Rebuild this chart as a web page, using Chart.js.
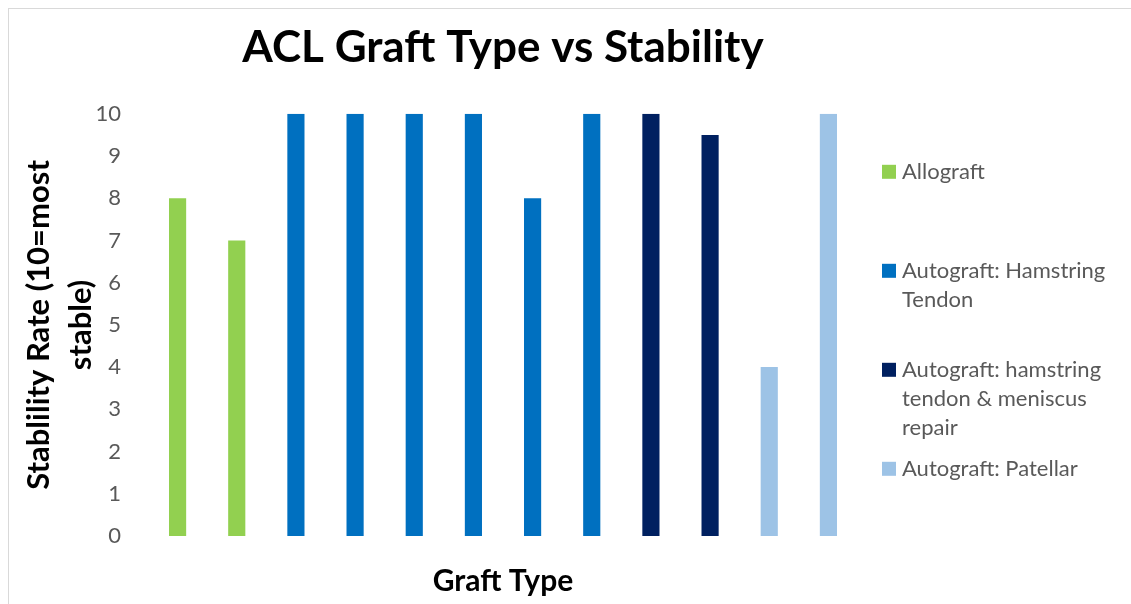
<!DOCTYPE html>
<html>
<head>
<meta charset="utf-8">
<script src="https://cdn.jsdelivr.net/npm/chart.js@4"></script>
<style>
    html, body { margin: 0; padding: 0; background: #fff; overflow: hidden; }
    #frame { position: absolute; left: 8px; top: 8px; width: 1140px; height: 620px; border: 1px solid #d9d9d9; }
    #wrap { position: absolute; left: 0; top: 0; width: 1131px; height: 604px; }
</style>
</head>
<body>
<div id="frame"></div>
<div id="wrap"><canvas id="chart"></canvas></div>
<script>
// legend groups (wrapped the way the reference shows them)
const groups = [
    ['Allograft'],
    ['Autograft: Hamstring', 'Tendon'],
    ['Autograft: hamstring', 'tendon & meniscus', 'repair'],
    ['Autograft: Patellar']
];
const groupColors = ['#92d050', '#0070c0', '#002060', '#9dc3e6'];
const barGroup = [0, 0, 1, 1, 1, 1, 1, 1, 2, 2, 3, 3];
const values = [8, 7, 10, 10, 10, 10, 8, 10, 10, 9.5, 4, 10];
const yMin = 0, yMax = 10, yStep = 1;

const categories = barGroup.map(g => groups[g].join(' '));

const FONT = 'Lato, "Open Sans", sans-serif';

// legend on the right, drawn by hand so the labels can wrap
const sideLegend = {
    id: 'sideLegend',
    afterDraw(chart) {
        const { ctx, chartArea } = chart;
        ctx.save();
        ctx.font = '22px ' + FONT;
        ctx.textBaseline = 'middle';
        groups.forEach((lines, i) => {
            const y = chartArea.top + 58 + i * 99;
            const x = chartArea.right + 24;
            ctx.fillStyle = groupColors[i];
            ctx.fillRect(x, y - 7, 14, 14);
            ctx.fillStyle = '#595959';
            lines.forEach((t, j) => ctx.fillText(t, x + 20, y + j * 29));
        });
        ctx.restore();
    }
};

new Chart(document.getElementById('chart'), {
    type: 'bar',
    data: {
        labels: categories,
        datasets: [{
            label: 'Stability',
            data: values,
            backgroundColor: barGroup.map(g => groupColors[g]),
            categoryPercentage: 1,
            barPercentage: 0.29
        }]
    },
    options: {
        responsive: true,
        maintainAspectRatio: false,
        animation: false,
        layout: { padding: { left: 8, top: 8, right: 273, bottom: 0 } },
        plugins: {
            legend: { display: false },
            tooltip: { enabled: false },
            title: {
                display: true,
                text: 'ACL Graft Type vs Stability',
                fullSize: false,
                color: '#000',
                font: { family: FONT, size: 44, weight: 'bold' },
                padding: { top: 13, bottom: 40 }
            }
        },
        scales: {
            x: {
                grid: { display: false, drawTicks: false },
                border: { display: false },
                ticks: { display: false },
                title: {
                    display: true,
                    text: 'Graft Type',
                    color: '#000',
                    font: { family: FONT, size: 30, weight: 'bold' },
                    padding: { top: 0, bottom: 5 }
                },
                afterFit: s => { s.height = 68; }
            },
            y: {
                min: yMin,
                max: yMax,
                grid: { display: false, drawTicks: false },
                border: { display: false },
                ticks: {
                    stepSize: yStep,
                    padding: 27,
                    color: '#595959',
                    font: { family: FONT, size: 22 }
                },
                title: {
                    display: true,
                    text: ['Stablility Rate (10=most', 'stable)'],
                    color: '#000',
                    font: { family: FONT, size: 31, weight: 'bold', lineHeight: 1.35 },
                    padding: { top: 10, bottom: 0 }
                },
                afterFit: s => { s.width = 140; }
            }
        }
    },
    plugins: [sideLegend]
});
</script>
</body>
</html>
